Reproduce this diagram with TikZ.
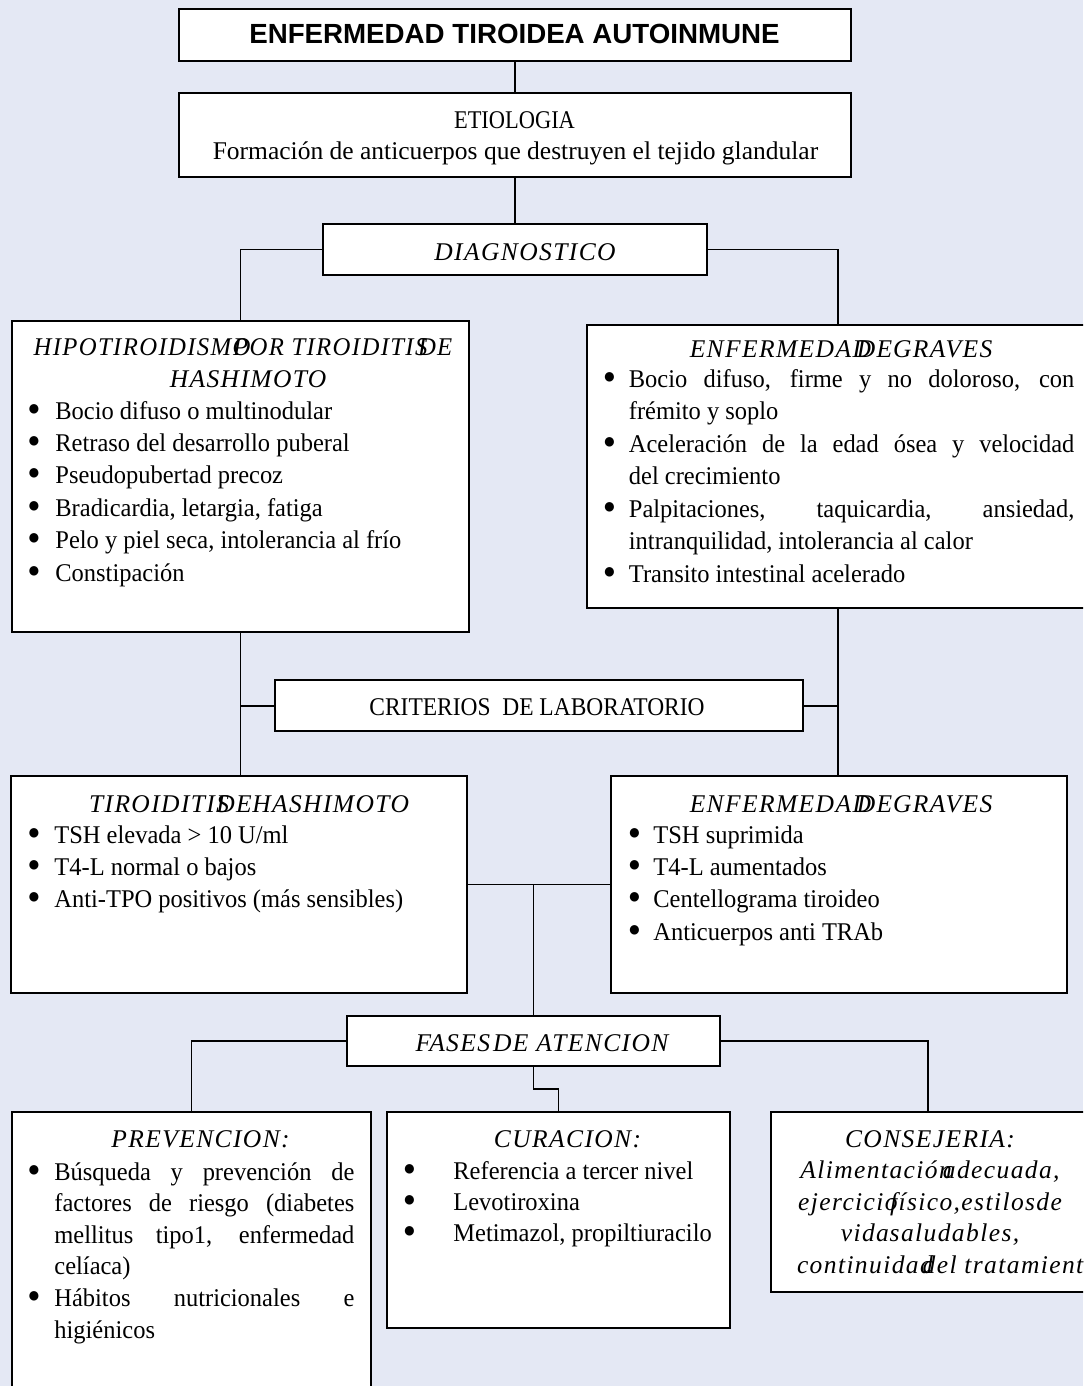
\documentclass[tikz,border=0pt]{standalone}
\usepackage{fontspec}
\setmainfont{Liberation Serif}[ItalicFeatures={LetterSpace=5.5}]
\setsansfont{Liberation Sans}
\newfontfamily\listfont{Liberation Serif}[FakeStretch=0.96]
\usepackage{graphicx}
\usetikzlibrary{fit}
\definecolor{pagebg}{HTML}{E4E8F4}
\setlength\parindent{0pt}

% bullet lists: \bind = gap from bullet centre to text, \jw = justified width
\newlength\bind
\newlength\jw
\newcommand\natsp{\spaceskip=0pt\xspaceskip=0pt\relax}
\newcommand\blt{\makebox[0pt][c]{\raisebox{2pt}{\fontsize{11pt}{11pt}\selectfont ●}}}
\newcommand\bitem[1]{\blt\hspace*{\bind}#1}
\newcommand\bcont[1]{\hspace*{\bind}#1}
\newcommand\bjust[1]{\makebox[\jw][s]{#1}}
\newcommand\bodyfont[1]{\fontsize{12.75pt}{#1}\selectfont}

\tikzset{
  box/.style={draw, line width=0.8pt, fill=white, inner sep=0pt},
  wire/.style={line width=0.6pt},
  stub/.style={line width=1pt},
  label/.style={inner sep=0pt, anchor=base, font=\bodyfont{16pt}},
  listtxt/.style={inner sep=0pt, anchor=base west, align=left, text width=#1},
}

\begin{document}
\begin{tikzpicture}[x=0.5pt, y=-0.5pt]
\useasboundingbox (0,0) rectangle (1083,1386);
\clip (0,0) rectangle (1083,1386);
\fill[pagebg] (0,0) rectangle (1083,1386);

% boxes
\node[box, fit={(179,9) (851,61)}] (title) {};
\node[box, fit={(179,93) (851,177)}] (etio) {};
\node[box, fit={(323,224) (707,275)}] (diag) {};
\node[box, fit={(12,321) (469,632)}] (hipo) {};
\node[box, fit={(587,325) (1089,608)}] (graves) {};
\node[box, fit={(275,680) (803,731)}] (crit) {};
\node[box, fit={(11,776) (467,993)}] (labh) {};
\node[box, fit={(611,776) (1067,993)}] (labg) {};
\node[box, fit={(347,1016) (720,1066)}] (fases) {};
\node[box, fit={(12,1112) (371,1420)}] (prev) {};
\node[box, fit={(387,1112) (730,1328)}] (cur) {};
\node[box, fit={(771,1112) (1085,1292)}] (cons) {};

% connectors
\draw[wire] (title.south) -- (etio.north);
\draw[wire] (etio.south) -- (diag.north);
\draw[wire] (diag.west) -| (hipo.north);
\draw[wire] (diag.east) -| (graves.north);
\draw[wire] (hipo.south) -- (hipo.south |- labh.north);
\draw[wire] (graves.south) -- (graves.south |- labg.north);
\draw[stub] (crit.west) -- (crit.west -| hipo.south);
\draw[stub] (crit.east) -- (crit.east -| graves.south);
\draw[wire] (labh.east) -- (labg.west);
\draw[wire] (fases.north) -- (fases.north |- labh.east);
\draw[wire] (fases.west) -| (prev.north);
\draw[wire] (fases.east) -| (cons.north);
\coordinate (kink) at (534,1089);
\draw[wire] (fases.south) |- (cur.north |- kink) -- (cur.north);

% single-line headings
\node[label, font=\sffamily\bfseries\fontsize{13.85pt}{16pt}\selectfont] (title-t) at (514.5,43.5) {ENFERMEDAD TIROIDEA AUTOINMUNE};
\node[label] (etio-t1) at (514.5,128.5) {\scalebox{0.88}[1]{ETIOLOGIA}};
\node[label] (etio-t2) at (515.5,160) {Formación de anticuerpos que destruyen el tejido glandular};
\node[label] (diag-t) at (525,260) {\itshape DIAGNOSTICO};
\node[label] (crit-t) at (537,715) {\scalebox{0.92}[1]{CRITERIOS\ \ DE LABORATORIO}};
\node[label] (fases-t) at (542,1051) {\itshape FASES\kern0.12em DE ATENCION};

% hypothyroidism
\node[label, align=center, font=\bodyfont{16pt}\itshape] (hipo-t) at (243,387)
  {\natsp\scalebox{0.97}[1]{HIPOTIROIDISMO\kern-0.7em POR TIROIDITIS\kern-0.38em DE}\\\kern0.4em HASHIMOTO};
\node[listtxt=205pt, font=\listfont\bodyfont{16.2pt}] (hipo-l) at (33.5,419) {%
\natsp\setlength\bind{10.75pt}%
\bitem{Bocio difuso o multinodular}\\
\bitem{Retraso del desarrollo puberal}\\
\bitem{Pseudopubertad precoz}\\
\bitem{Bradicardia, letargia, fatiga}\\
\bitem{Pelo y piel seca, intolerancia al frío}\\
\bitem{Constipación}};

% Graves disease
\node[label, font=\bodyfont{16pt}\itshape] (graves-t) at (841,357)
  {ENFERMEDAD\kern-0.55em DE\kern0.03em GRAVES};
\node[listtxt=240pt, font=\listfont\bodyfont{16.25pt}] (graves-l) at (609,387) {%
\natsp\setlength\bind{9.75pt}\setlength\jw{222.75pt}%
\bitem{\bjust{Bocio difuso, firme y no doloroso, con}}\\
\bcont{frémito y soplo}\\
\bitem{\bjust{Aceleración de la edad ósea y velocidad}}\\
\bcont{del crecimiento}\\
\bitem{\bjust{Palpitaciones, taquicardia, ansiedad,}}\\
\bcont{intranquilidad, intolerancia al calor}\\
\bitem{Transito intestinal acelerado}};

% laboratory: Hashimoto
\node[label, font=\bodyfont{16pt}\itshape] (labh-t) at (249,812)
  {TIROIDITIS\kern-0.5em DE\kern0.02em HASHIMOTO};
\node[listtxt=205pt, font=\listfont\bodyfont{16.2pt}] (labh-l) at (33.5,843) {%
\natsp\setlength\bind{10.25pt}%
\bitem{TSH elevada > 10 U/ml}\\
\bitem{T4-L normal o bajos}\\
\bitem{Anti-TPO positivos (más sensibles)}};

% laboratory: Graves
\node[label, font=\bodyfont{16pt}\itshape] (labg-t) at (841,812)
  {ENFERMEDAD\kern-0.55em DE\kern0.03em GRAVES};
\node[listtxt=205pt, font=\listfont\bodyfont{16.2pt}] (labg-l) at (634,843) {%
\natsp\setlength\bind{9.5pt}%
\bitem{TSH suprimida}\\
\bitem{T4-L aumentados}\\
\bitem{Centellograma tiroideo}\\
\bitem{Anticuerpos anti TRAb}};

% prevention
\node[label, font=\bodyfont{16pt}\itshape] (prev-t) at (200.5,1147) {PREVENCION:};
\node[listtxt=165pt, font=\listfont\bodyfont{15.8pt}] (prev-l) at (33.5,1180) {%
\natsp\setlength\bind{10.25pt}\setlength\jw{150pt}%
\bitem{\bjust{Búsqueda y prevención de}}\\
\bcont{\bjust{factores de riesgo (diabetes}}\\
\bcont{\bjust{mellitus tipo1, enfermedad}}\\
\bcont{celíaca)}\\
\bitem{\bjust{Hábitos nutricionales e}}\\
\bcont{higiénicos}};

% treatment
\node[label, font=\bodyfont{16pt}\itshape] (cur-t) at (567.5,1147) {CURACION:};
\node[listtxt=160pt, font=\listfont\bodyfont{15.7pt}] (cur-l) at (409,1179) {%
\natsp\setlength\bind{22pt}%
\bitem{Referencia a tercer nivel}\\
\bitem{Levotiroxina}\\
\bitem{Metimazol, propiltiuracilo}};

% counselling
\node[inner sep=0pt, anchor=base, align=center, text width=133pt, font=\bodyfont{15.8pt}\itshape] (cons-t) at (930,1147) {%
\natsp
\mbox{CONSEJERIA:}\\
\mbox{Alimentación\kern-0.35em adecuada,}\\
\mbox{ejercicio\kern-0.3em físico,estilos\kern0.05em de}\\
\mbox{vida\kern0.03em saludables,}\\
\mbox{continuidad\kern-0.4em del tratamiento}};
\end{tikzpicture}
\end{document}
